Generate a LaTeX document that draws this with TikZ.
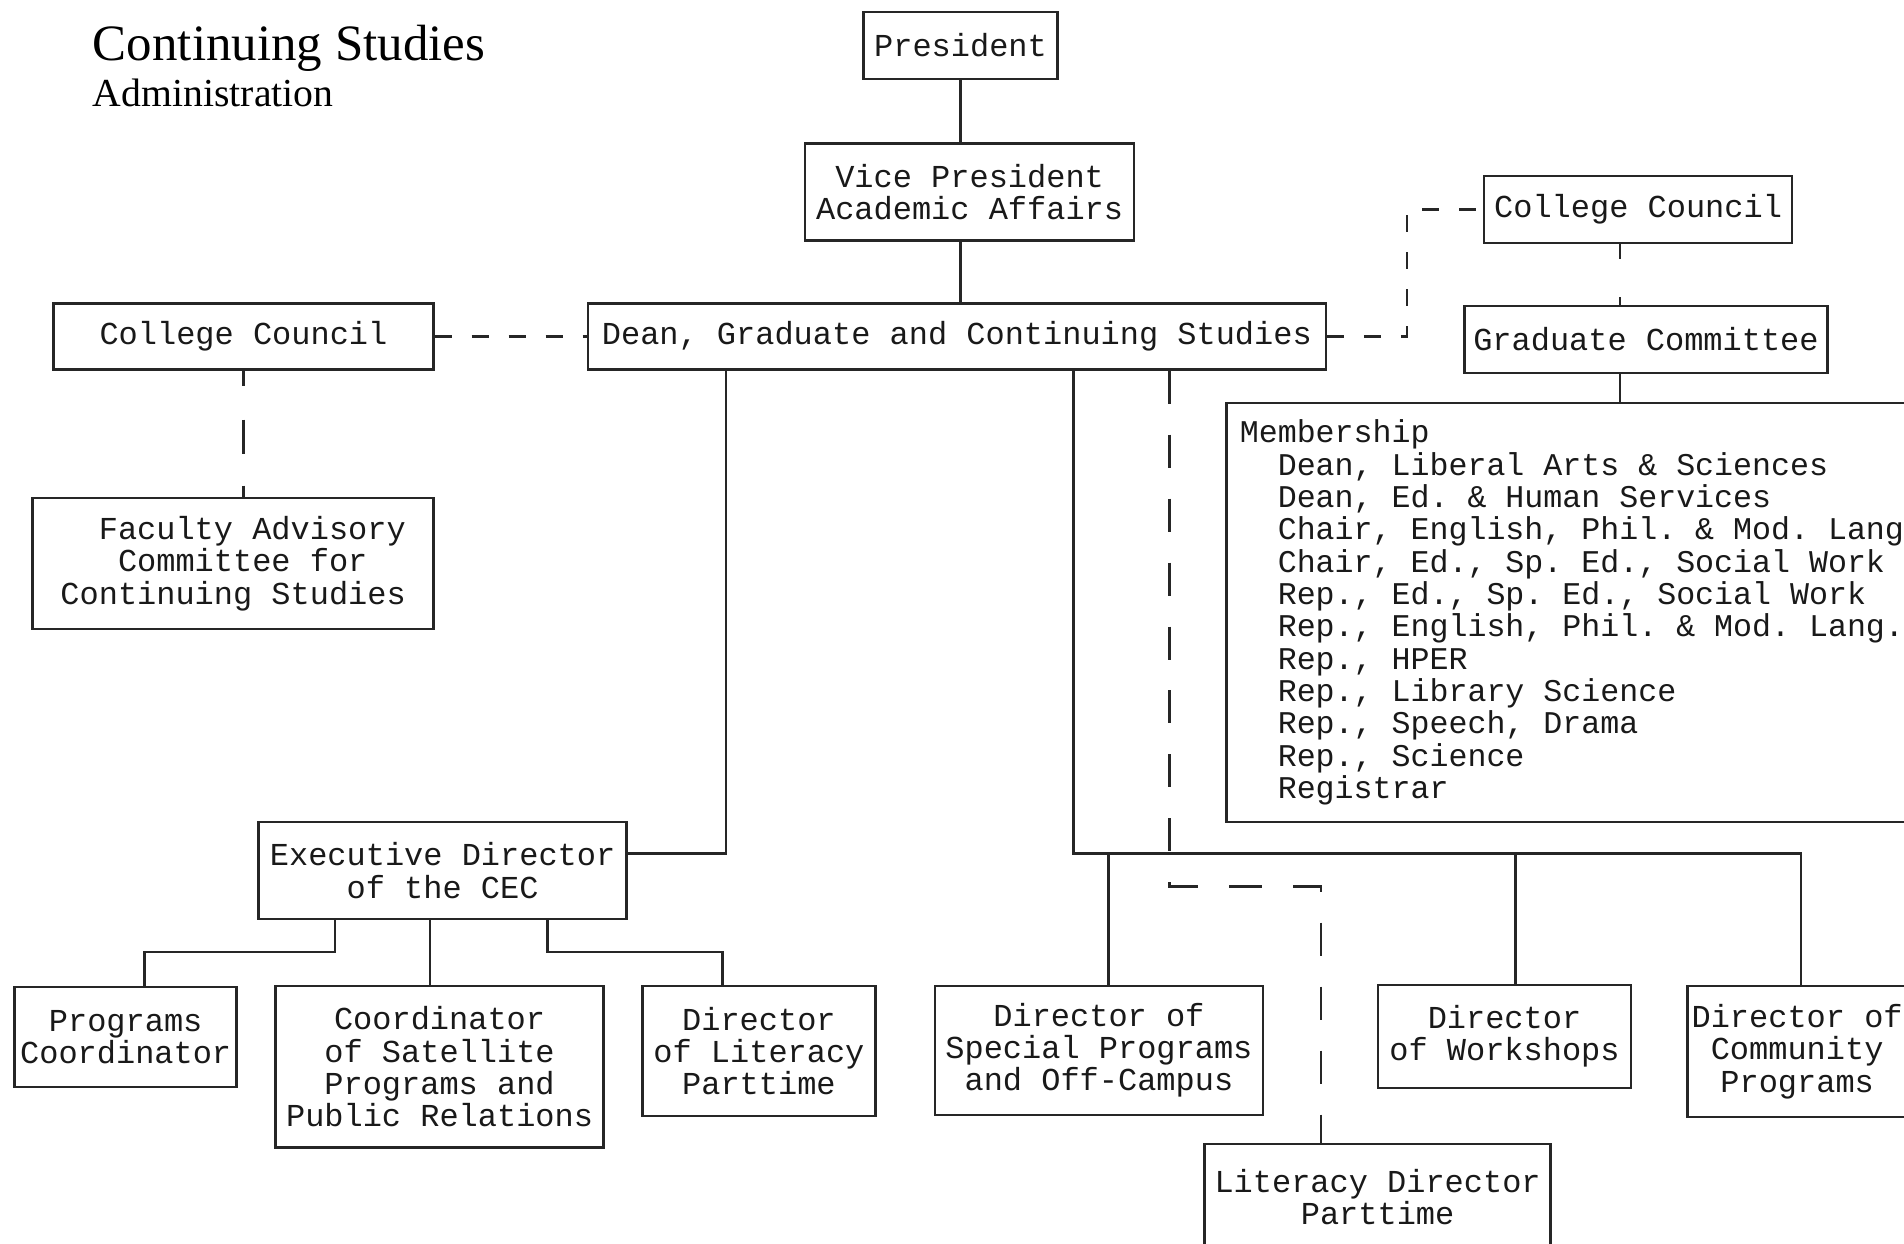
\documentclass[tikz,border=0pt]{standalone}
\usepackage{fontspec}
\usepackage{tikz}
\newfontfamily\typewriter{Liberation Mono}
\newfontfamily\titlefont{Liberation Serif}
\tikzstyle{box} = [rectangle, draw=black!85, line width=0.7pt, inner sep=0pt, align=center, text=black!90, font=\typewriter\fontsize{9.1}{9.2}\selectfont]
\tikzstyle{line} = [draw=black!85, line width=0.7pt]
\tikzstyle{dashline} = [line, dash pattern=on 0.17cm off 0.2cm]
\tikzstyle{dashlong} = [line, dash pattern=on 0.33cm off 0.31cm]

\begin{document}
\frenchspacing
\begin{tikzpicture}[x=0.012143cm, y=-0.012143cm]
   \useasboundingbox (0,0) rectangle (1568,1024);
   % heading
   \node (title) [anchor=base west, inner sep=0pt, font=\titlefont\fontsize{14.5}{16}\selectfont] at (76,50) {Continuing Studies};
   \node (sub) [anchor=base west, inner sep=0pt, font=\titlefont\fontsize{11.3}{13}\selectfont] at (76,88) {Administration};
   % top of the chart
   \node (pres) [box, minimum width=1.94cm, minimum height=0.67cm] at (791,37.5) {President};
   \node (vp) [box, minimum width=3.29cm, minimum height=0.97cm] at (798.5,158) {Vice President\\Academic Affairs};
   \node (dean) [box, minimum width=7.38cm, minimum height=0.66cm] at (788,277) {Dean, Graduate and Continuing Studies};
   \node (ccl) [box, minimum width=3.80cm, minimum height=0.66cm] at (200.5,277) {College Council};
   \node (fac) [box, align=flush left, minimum width=4.01cm, minimum height=1.31cm] at (192,464) {\hspace*{1.2em}Faculty Advisory\\\hspace*{1.8em}Committee for\\Continuing Studies};
   \node (ccr) [box, minimum width=3.08cm, minimum height=0.67cm] at (1349,172.5) {College Council};
   \node (grad) [box, minimum width=3.63cm, minimum height=0.67cm] at (1355.5,279.5) {Graduate Committee};
   \node (memb) [box, anchor=north west, align=flush left, text width=6.91cm, inner xsep=0.134cm, minimum height=4.19cm, font=\typewriter\fontsize{9}{9.2}\selectfont] at (1009,331) {Membership\\
      \hspace*{1.2em}Dean, Liberal Arts \& Sciences\\
      \hspace*{1.2em}Dean, Ed. \& Human Services\\
      \hspace*{1.2em}Chair, English, Phil. \& Mod. Lang\\
      \hspace*{1.2em}Chair, Ed., Sp. Ed., Social Work\\
      \hspace*{1.2em}Rep., Ed., Sp. Ed., Social Work\\
      \hspace*{1.2em}Rep., English, Phil. \& Mod. Lang.\\
      \hspace*{1.2em}Rep., HPER\\
      \hspace*{1.2em}Rep., Library Science\\
      \hspace*{1.2em}Rep., Speech, Drama\\
      \hspace*{1.2em}Rep., Science\\
      \hspace*{1.2em}Registrar};
   % lower levels
   \node (exec) [box, minimum width=3.68cm, minimum height=0.97cm] at (364.5,717) {Executive Director\\of the CEC};
   \node (prog) [box, minimum width=2.22cm, minimum height=1.00cm] at (103.5,854) {Programs\\Coordinator};
   \node (coord) [box, minimum width=3.28cm, minimum height=1.62cm] at (362,878.5) {Coordinator\\of Satellite\\Programs and\\Public Relations};
   \node (litpt) [box, minimum width=2.33cm, minimum height=1.30cm] at (625,865.5) {Director\\of Literacy\\Parttime};
   \node (spec) [box, minimum width=3.28cm, minimum height=1.29cm] at (905,865) {Director of\\Special Programs\\and Off-Campus};
   \node (work) [box, minimum width=2.53cm, minimum height=1.03cm] at (1239,853.5) {Director\\of Workshops};
   \node (comm) [box, minimum width=2.19cm, minimum height=1.31cm] at (1480,866) {Director of\\Community\\Programs};
   \node (lit) [box, minimum width=3.46cm, minimum height=1.07cm] at (1134.5,986) {Literacy Director\\Parttime};
   % tap points of the connectors
   \coordinate (gtap) at (1334,0);
   \coordinate (etap) at (598,0);
   \coordinate (btap) at (884,703);
   \coordinate (b1) at (913,703);
   \coordinate (b2) at (1248,703);
   \coordinate (b3) at (1483,703);
   \coordinate (dtap) at (963,730);
   \coordinate (ltap) at (1088,730);
   \coordinate (e1) at (276,784);
   \coordinate (e2) at (354,784);
   \coordinate (e3) at (451,784);
   \coordinate (p1) at (119,784);
   \coordinate (p3) at (595,784);
   % connectors
   \draw [line] (pres.south) -- (pres.south |- vp.north);
   \draw [line] (vp.south -| pres.south) -- (dean.north -| pres.south);
   \draw [dashline] (ccl.east) -- (dean.west);
   \draw [line, dash pattern=on 0.15cm off 0.34cm on 0.34cm off 0.32cm] (ccl.south) -- (fac.north -| ccl.south);
   \draw [dashline] (dean.east) -- ++(66,0) |- (ccr.west);
   \draw [line, dash pattern=on 0.15cm off 0.38cm] (ccr.south -| gtap) -- (grad.north -| gtap);
   \draw [line] (grad.south -| gtap) -- (memb.north -| gtap);
   \draw [line] (dean.south -| etap) |- ([yshift=0.17cm]exec.east);
   \draw [line] (dean.south -| btap) |- (b3) -- (comm.north -| b3);
   \draw [line] (b1) -- (spec.north -| b1);
   \draw [line] (b2) -- (work.north -| b2);
   \draw [dashlong] (dean.south -| dtap) -- (dtap) -- (ltap) -- (lit.north -| ltap);
   \draw [line] (exec.south -| e1) -- (e1) -- (p1) -- (prog.north -| p1);
   \draw [line] (exec.south -| e2) -- (coord.north -| e2);
   \draw [line] (exec.south -| e3) -- (e3) -- (p3) -- (litpt.north -| p3);
\end{tikzpicture}
\end{document}
